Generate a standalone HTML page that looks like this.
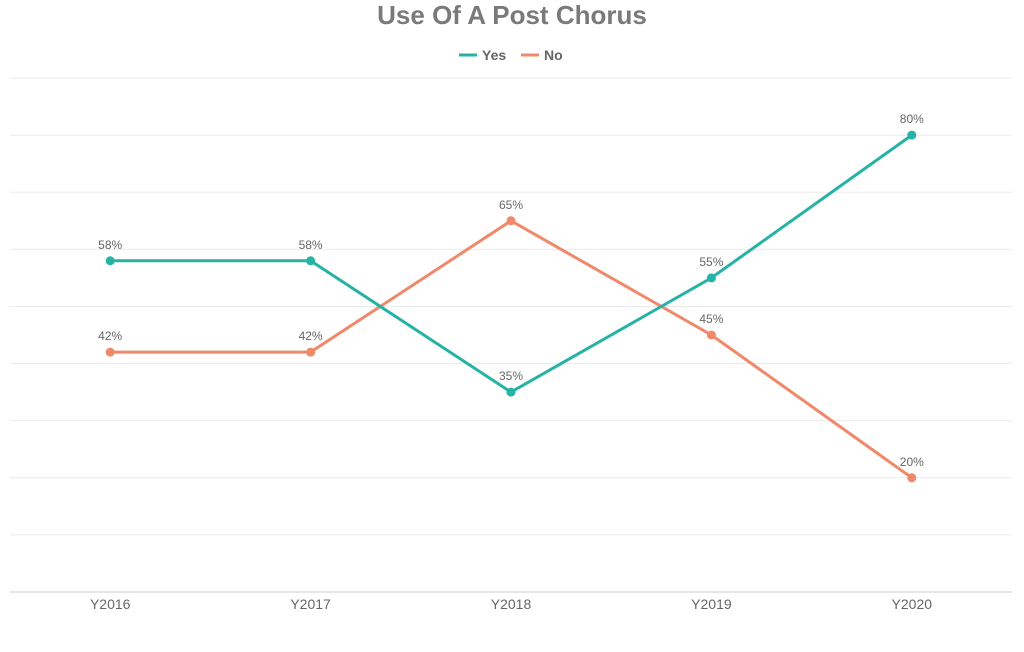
<!DOCTYPE html>
<html><head><meta charset="utf-8"><style>
html,body{margin:0;padding:0;background:#fff;}
body{width:1024px;height:647px;overflow:hidden;font-family:"Liberation Sans",sans-serif;}
</style></head><body>
<svg id="chart" width="1024" height="647">
<text x="512" y="24" text-anchor="middle" font-size="26" font-weight="bold" fill="#7a7a7a">Use Of A Post Chorus</text>
<g>
<g><line x1="459" y1="55" x2="477" y2="55" stroke="#26b3a5" stroke-width="3"/><text x="482" y="60" font-size="14" font-weight="bold" fill="#666">Yes</text></g>
<g><line x1="521" y1="55" x2="539" y2="55" stroke="#f0886a" stroke-width="3"/><text x="544" y="60" font-size="14" font-weight="bold" fill="#666">No</text></g>
</g>
<g id="grid"></g><g id="xaxis"></g><g id="series"></g>
</svg>
<script>
const categories=["Y2016","Y2017","Y2018","Y2019","Y2020"];
const yesValues=[58,58,35,55,80];
const noValues=[42,42,65,45,20];
const yTicks=[0,10,20,30,40,50,60,70,80,90];
const NS="http://www.w3.org/2000/svg";
const plotLeft=10,plotRight=1012,plotTop=78,plotBottom=592,yMax=90;
const band=(plotRight-plotLeft)/categories.length;
function xPos(i){return plotLeft+band*(i+0.5);}
function yPos(v){return plotBottom-(v/yMax)*(plotBottom-plotTop);}
function mk(tag,attrs,parent){const e=document.createElementNS(NS,tag);for(const k in attrs)e.setAttribute(k,attrs[k]);parent.appendChild(e);return e;}
const grid=document.getElementById('grid');
yTicks.forEach(t=>{
  const l=mk('line',{x1:plotLeft,x2:plotRight,y1:yPos(t),y2:yPos(t),stroke:t===0?'#ccc':'#ebebeb','stroke-width':1},grid);
  
  
});
const xa=document.getElementById('xaxis');
categories.forEach((c,i)=>{
  const t=mk('text',{x:xPos(i),y:609,'text-anchor':'middle','font-size':14,fill:'#666'},xa);
  t.textContent=c;
  
  
});
const sg=document.getElementById('series');
function drawSeries(vals,color,name){
  const g=mk('g',{},sg);
  
  
  const p=mk('polyline',{points:vals.map((v,i)=>xPos(i)+','+yPos(v)).join(' '),fill:'none',stroke:color,'stroke-width':3},g);
  
  
  vals.forEach((v,i)=>{
    const c=mk('circle',{cx:xPos(i),cy:yPos(v),r:4.5,fill:color},g);
    
    
    const t=mk('text',{x:xPos(i),y:yPos(v)-12,'text-anchor':'middle','font-size':12,fill:'#666'},g);
    t.textContent=v+'%';
    
    
  });
}
drawSeries(noValues,'#f0886a','no');
drawSeries(yesValues,'#26b3a5','yes');
</script>
</body></html>
